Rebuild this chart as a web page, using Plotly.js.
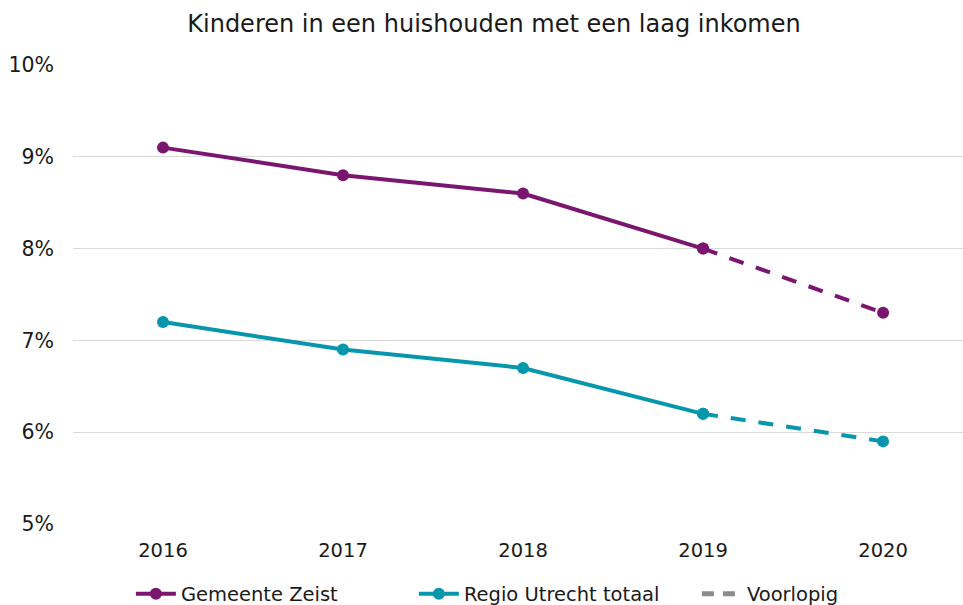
<!DOCTYPE html>
<html>
<head>
<meta charset="utf-8">
<script src="https://cdn.plot.ly/plotly-3.0.1.min.js"></script>
<style>html,body{margin:0;padding:0;background:#fff;}#chart{width:963px;height:605px;}</style>
</head>
<body>
<div id="chart"></div>
<script>
const years = ['2016', '2017', '2018', '2019', '2020'];
const zeist = [9.1, 8.8, 8.6, 8.0, 7.3];
const utrecht = [7.2, 6.9, 6.7, 6.2, 5.9];
const seriesNames = ['Gemeente Zeist', 'Regio Utrecht totaal', 'Voorlopig'];
const yTicks = [5, 6, 7, 8, 9, 10];

const purple = '#7a1670';
const teal = '#0797ad';
const gray = '#8c8c8c';

const definitive = 4; // first 4 points definitive, last segment provisional

function solidPart(arr) { return arr.slice(0, definitive); }
function dashPart(arr) { return arr.slice(definitive - 1); }

const dashStyle = '15px,13px';

const traces = [
  {x: years.slice(0, definitive), y: solidPart(zeist), name: seriesNames[0], type: 'scatter', mode: 'lines+markers',
   line: {color: purple, width: 4}, marker: {color: purple, size: 12}, legendgroup: 'z'},
  {x: years.slice(definitive - 1), y: dashPart(zeist), name: seriesNames[0], type: 'scatter', mode: 'lines+markers',
   line: {color: purple, width: 4, dash: dashStyle}, marker: {color: purple, size: 12}, showlegend: false, legendgroup: 'z'},
  {x: years.slice(0, definitive), y: solidPart(utrecht), name: seriesNames[1], type: 'scatter', mode: 'lines+markers',
   line: {color: teal, width: 4}, marker: {color: teal, size: 12}, legendgroup: 'u'},
  {x: years.slice(definitive - 1), y: dashPart(utrecht), name: seriesNames[1], type: 'scatter', mode: 'lines+markers',
   line: {color: teal, width: 4, dash: dashStyle}, marker: {color: teal, size: 12}, showlegend: false, legendgroup: 'u'},
  {x: [null], y: [null], name: seriesNames[2], type: 'scatter', mode: 'lines',
   line: {color: gray, width: 5, dash: '12px,9px'}}
];

const layout = {
  width: 963, height: 605,
  margin: {l: 73, r: 0, t: 65, b: 81, autoexpand: false},
  paper_bgcolor: '#ffffff', plot_bgcolor: '#ffffff',
  font: {family: 'DejaVu Sans, Verdana, sans-serif', color: '#1a1a1a', size: 20},
  title: {text: 'Kinderen in een huishouden met een laag inkomen', x: 494 / 963, xref: 'container', xanchor: 'center',
          y: 1 - 24 / 605, yref: 'container', yanchor: 'middle', font: {size: 24, color: '#1a1a1a'}},
  xaxis: {type: 'category', range: [-0.5, 4.444], showgrid: false, zeroline: false, showline: false,
          ticks: '', tickfont: {size: 19.5}, ticklabelstandoff: 12, fixedrange: true, automargin: false},
  yaxis: {range: [5, 10], tickvals: yTicks, ticktext: yTicks.map(v => v + '%'), showgrid: true,
          gridcolor: '#d9d9d9', gridwidth: 1.3, zeroline: false, showline: false, ticks: '',
          tickfont: {size: 20.5}, ticklabelstandoff: 18, automargin: false},
  legend: {orientation: 'h', x: 0.542, xanchor: 'center', y: 11 / 605, yref: 'container', yanchor: 'middle',
           font: {size: 19.5}, itemwidth: 40, entrywidth: 228, entrywidthmode: 'pixels', bgcolor: 'rgba(0,0,0,0)'},
  showlegend: true
};

Plotly.newPlot('chart', traces, layout, {displayModeBar: false, staticPlot: true});
</script>
</body>
</html>
